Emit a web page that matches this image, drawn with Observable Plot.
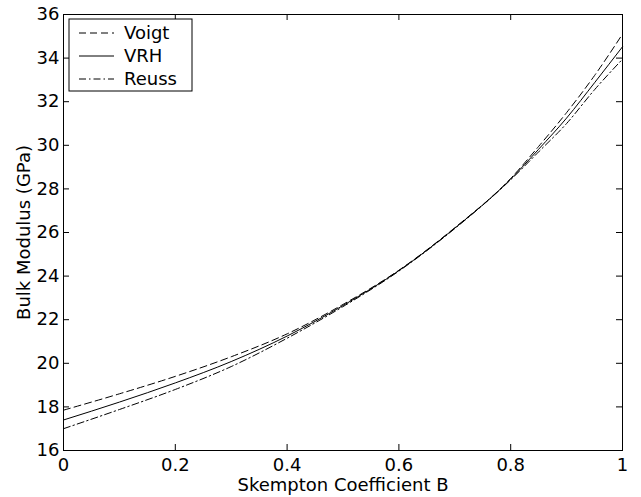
<!DOCTYPE html>
<html>
<head>
<meta charset="utf-8">
<script src="https://cdn.jsdelivr.net/npm/d3@7"></script>
<script src="https://cdn.jsdelivr.net/npm/@observablehq/plot@0.6"></script>
<style>
  html, body { margin: 0; padding: 0; background: #fff; }
  #chart { width: 641px; height: 497px; }
  #chart svg text { font-family: 'DejaVu Sans', 'Liberation Sans', Arial, sans-serif; font-size: 18px; }
</style>
</head>
<body>
<div id="chart"></div>
<script>
const B = [0, 0.1, 0.2, 0.3, 0.4, 0.5, 0.6, 0.7, 0.8, 0.85, 0.9, 0.95, 1.0];
const voigt = [17.85, 18.6, 19.4, 20.3, 21.35, 22.7, 24.27, 26.22, 28.48, 29.95, 31.5, 33.2, 35.1];
const vrh   = [17.4, 18.22, 19.1, 20.08, 21.25, 22.65, 24.25, 26.2, 28.45, 29.82, 31.25, 32.87, 34.52];
const reuss = [17.0, 17.88, 18.8, 19.85, 21.15, 22.6, 24.23, 26.18, 28.42, 29.7, 31.0, 32.55, 33.95];
const seriesNames = ["Voigt", "VRH", "Reuss"];
const xTicks = [0, 0.2, 0.4, 0.6, 0.8, 1];
const yTicks = [16, 18, 20, 22, 24, 26, 28, 30, 32, 34, 36];

const dashes = {Voigt: "7,4", VRH: null, Reuss: "7,3,1.5,3"};
const seriesValues = {Voigt: voigt, VRH: vrh, Reuss: reuss};
const rows = seriesNames.flatMap(s => B.map((b, i) => ({series: s, B: b, K: seriesValues[s][i]})));

const W = 641, H = 497, mL = 63, mR = 19, mT = 14, mB = 47;
const ph = H - mT - mB, pw = W - mL - mR;
const font = "'DejaVu Sans', 'Liberation Sans', Arial, sans-serif";

const lineMarks = seriesNames.map(s => Plot.line(rows.filter(r => r.series === s), {
  x: "B", y: "K", stroke: "black", strokeWidth: 1, curve: "monotone-x",
  strokeDasharray: dashes[s] || undefined
}));

const chart = Plot.plot({
  width: W, height: H,
  marginLeft: mL, marginRight: mR, marginTop: mT, marginBottom: mB,
  style: {fontFamily: font, fontSize: "18px", color: "black", background: "white"},
  x: {domain: [0, 1]},
  y: {domain: [16, 36]},
  marks: [
    ...lineMarks,
    Plot.frame({stroke: "black", strokeWidth: 1}),
    Plot.tickX(xTicks, {x: d => d, insetTop: ph - 6, stroke: "black"}),
    Plot.tickX(xTicks, {x: d => d, insetBottom: ph - 6, stroke: "black"}),
    Plot.tickY(yTicks, {y: d => d, insetRight: pw - 6, stroke: "black"}),
    Plot.tickY(yTicks, {y: d => d, insetLeft: pw - 6, stroke: "black"}),
    Plot.axisX(xTicks, {tickSize: 0, tickPadding: 8, tickFormat: d => String(d), fontSize: 18,
      label: "Skempton Coefficient B", labelAnchor: "center", labelArrow: "none", labelOffset: 40}),
    Plot.axisY(yTicks, {tickSize: 0, tickPadding: 4, tickFormat: d => String(d), fontSize: 18,
      label: "Bulk Modulus (GPa)", labelAnchor: "center", labelArrow: "none", labelOffset: 46})
  ]
});
document.getElementById("chart").appendChild(chart);

// Legend box (upper left, inside the frame)
const svg = d3.select(chart);
const lg = svg.append("g");
lg.append("rect").attr("x", 69).attr("y", 19).attr("width", 123).attr("height", 72)
  .attr("fill", "white").attr("stroke", "black").attr("stroke-width", 1);
seriesNames.forEach((s, i) => {
  const yy = 33 + i * 23;
  lg.append("line").attr("x1", 79).attr("x2", 114).attr("y1", yy).attr("y2", yy)
    .attr("stroke", "black").attr("stroke-width", 1)
    .attr("stroke-dasharray", dashes[s] || null);
  lg.append("text").attr("x", 124).attr("y", yy).attr("dy", "0.35em")
    .attr("text-anchor", "start").attr("fill", "black").text(s);
});
</script>
</body>
</html>
